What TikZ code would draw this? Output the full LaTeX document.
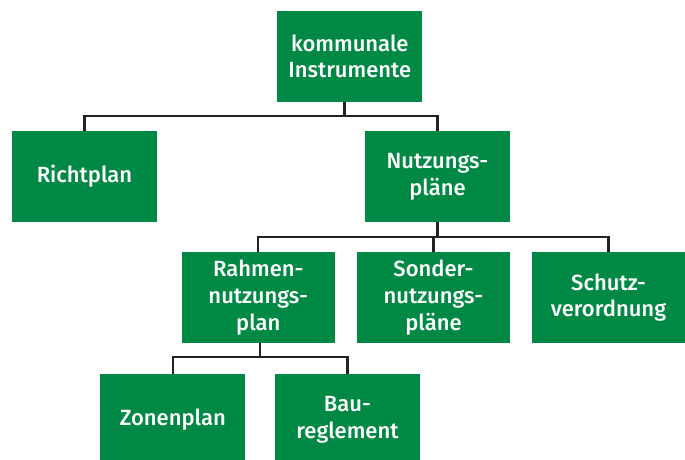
\documentclass[tikz,border=0pt]{standalone}
\usepackage{fontspec}
\setmainfont{Fira Sans Medium}
\definecolor{boxgreen}{RGB}{0,137,68}
\definecolor{linegray}{RGB}{34,34,34}
\tikzset{
  box/.style={fill=boxgreen, text=white, align=center, inner sep=0pt,
    font=\fontsize{22}{26.7}\selectfont},
  wide/.style={box, minimum width=145pt, minimum height=91pt},
  wider/.style={box, minimum width=153pt, minimum height=90.5pt},
  conn/.style={draw=linegray, line width=2.2pt}
}
\begin{document}
\begin{tikzpicture}[x=1pt,y=-1pt]
\useasboundingbox (0,0) rectangle (685,459);
\node[wide] (top) at (349.75,56.5) {kommunale\\Instrumente};
\node[wide] (richt) at (84.5,176.5) {Richtplan};
\node[wide] (nutz) at (437.5,176.5) {Nutzungs-\\pläne};
\node[wider] (rahmen) at (258.3,297.5) {Rahmen-\\nutzungs-\\plan};
\node[wider] (sonder) at (433.5,297.5) {Sonder-\\nutzungs-\\pläne};
\node[wider] (schutz) at (608.5,297.5) {Schutz-\\verordnung};
\node[wide] (zonen) at (172.8,419.5) {Zonenplan};
\node[wide] (bau) at (347.5,419.5) {Bau-\\reglement};
\coordinate (j1) at (344.5,116);
\coordinate (j2) at (437.5,237);
\coordinate (j3) at (260,357);
\draw[conn] (j1 |- top.south) -- (j1);
\draw[conn] (richt.north) |- (j1) -| (nutz.north);
\draw[conn] (nutz.south) -- (j2);
\draw[conn] (rahmen.north) |- (j2) -| (schutz.north);
\draw[conn] (sonder.north) -- (sonder.north |- j2);
\draw[conn] (j3 |- rahmen.south) -- (j3);
\draw[conn] (zonen.north) |- (j3) -| (bau.north);
\end{tikzpicture}
\end{document}
